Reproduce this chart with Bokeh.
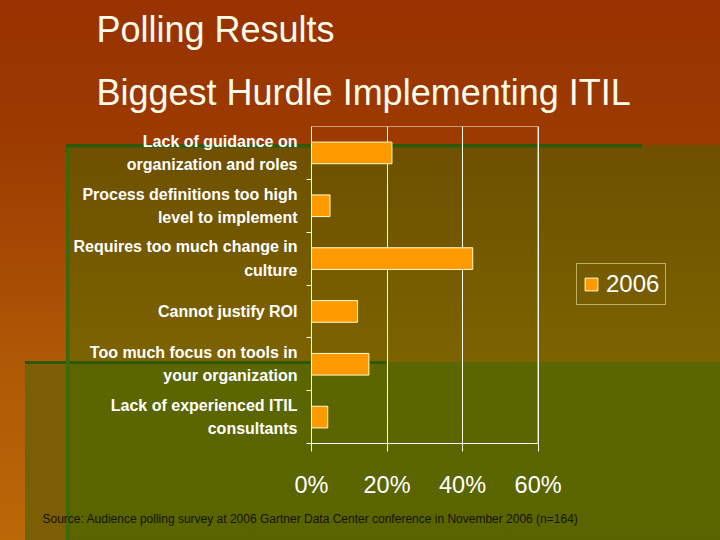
from bokeh.plotting import figure
from bokeh.models import (FactorRange, Range1d, LinearAxis, CategoricalAxis, FixedTicker,
                          Legend, LegendItem, Title, InlineStyleSheet)
from bokeh.embed import file_html
from bokeh.resources import INLINE

# data
hurdles = [
    "Lack of guidance on\norganization and roles",
    "Process definitions too high\nlevel to implement",
    "Requires too much change in\nculture",
    "Cannot justify ROI",
    "Too much focus on tools in\nyour organization",
    "Lack of experienced ITIL\nconsultants",
]
share_2006 = [21.3, 4.9, 42.7, 12.2, 15.2, 4.3]
pct_ticks = [0, 20, 40, 60]
pct_labels = ["0%", "20%", "40%", "60%"]
series_name = "2006"
source_note = ("Source: Audience polling survey at 2006 Gartner Data Center conference "
               "in November 2006 (n=164)")

W, H = 720, 540
LINE = "#FFFFF0"
FONT = "Liberation Sans"

FRAME_LEFT = 311
FRAME_W = W - FRAME_LEFT
PX_PER_PCT = (537.3 - 310.7) / 60


def box(c1, x0, y0, x1, y1, c2=None):
    # one css background layer in slide pixels
    return (f"linear-gradient({c1}, {c2 or c1}) {x0}px {y0}px / "
            f"{x1 - x0}px {y1 - y0}px no-repeat")


slide_bg = ", ".join([
    box("#2C5A0A", 66, 143.5, 642, 147),
    box("#3C680C", 66, 145, 69.5, 540),
    box("#2C5A0A", 25, 361, 386, 364),
    box("#6C6410", 25, 362, 27.5, 540),
    box("#5B6600", 69, 362, 720, 540, "#5A6500"),
    box("#7C5E04", 25, 362, 69, 540),
    box("#6E5000", 66, 145, 720, 362, "#7C6300"),
    "linear-gradient(#983200, #9C3A01 25%, #B05A06 70%, #BB6807)",
])

factors = hurdles[::-1]
p = figure(title=None, frame_width=FRAME_W, frame_height=317,
           x_range=Range1d(0, FRAME_W / PX_PER_PCT), y_range=FactorRange(factors=factors),
           y_axis_location=None, output_backend="svg", toolbar_location=None,
           min_border_left=FRAME_LEFT, min_border_right=0, min_border_top=126,
           min_border_bottom=97)
p.stylesheets = [InlineStyleSheet(css=f":host {{ background: {slide_bg}; }}")]
p.background_fill_color = None
p.border_fill_color = None
p.outline_line_color = None

# plot-area border: 0..60 % by all categories
p.quad(left=[pct_ticks[0]], right=[pct_ticks[-1]], bottom=[0], top=[len(hurdles)],
       fill_color=None, line_color=LINE, line_width=1)

bars = p.hbar(y=hurdles, left=0, right=share_2006, height=0.41,
              fill_color="#FF9900", line_color="#FFFFCC", line_width=1)

# ticks between the categories
edge_axis = LinearAxis(ticker=FixedTicker(ticks=[0, 1, 2, 3, 4, 5]),
                       major_label_text_font_size="1px", major_label_text_color=None,
                       major_label_standoff=0,
                       major_tick_out=5, major_tick_in=0, major_tick_line_color=LINE,
                       minor_tick_line_color=None, axis_line_color=LINE)
p.add_layout(edge_axis, "left")

cat_axis = CategoricalAxis(axis_line_color=None, major_tick_line_color=None,
                           major_tick_out=0, major_tick_in=0, major_label_standoff=9,
                           major_label_text_color="white", major_label_text_font=FONT,
                           major_label_text_font_style="bold",
                           major_label_text_font_size="16px",
                           major_label_text_line_height=1.38)
p.add_layout(cat_axis, "left")

xa = p.xaxis[0]
xa.ticker = FixedTicker(ticks=pct_ticks)
xa.bounds = (pct_ticks[0], pct_ticks[-1])
xa.major_label_overrides = dict(zip(pct_ticks, pct_labels))
xa.major_tick_out = 8
xa.major_tick_in = 0
xa.major_label_standoff = 20
xa.major_label_text_font = FONT
xa.major_label_text_font_size = "23.5px"
xa.major_label_text_color = "white"
xa.axis_line_color = LINE
xa.major_tick_line_color = LINE
xa.minor_tick_line_color = None

p.xgrid.ticker = FixedTicker(ticks=pct_ticks)
p.xgrid.grid_line_color = LINE
p.xgrid.grid_line_alpha = 1
p.ygrid.grid_line_color = None

# legend box sits right of the plot area, inside the (wide) frame
legend = Legend(items=[LegendItem(label=series_name, renderers=[bars])],
                location=(265, 138), margin=0, padding=6, spacing=0, label_standoff=7,
                glyph_width=16, glyph_height=16, label_height=24,
                label_text_font=FONT, label_text_font_size="24px", label_text_color="white",
                border_line_color="#FFFFCC", border_line_width=1, background_fill_alpha=0)
p.add_layout(legend, "center")

# slide titles (inner one first) and source line
for txt, gap in [("Biggest Hurdle Implementing ITIL", 28), ("Polling Results", 12)]:
    p.add_layout(Title(text=txt, align="left", offset=96 - FRAME_LEFT, standoff=gap,
                       text_font=FONT, text_font_size="36px", text_font_style="normal",
                       text_color="#FFFCEB"), "above")

p.add_layout(Title(text=source_note, align="left", offset=42 - FRAME_LEFT, standoff=18,
                   text_font=FONT, text_font_size="12px", text_font_style="normal",
                   text_color="#141200"), "below")

open("out.html", "w").write(file_html(p, INLINE))
